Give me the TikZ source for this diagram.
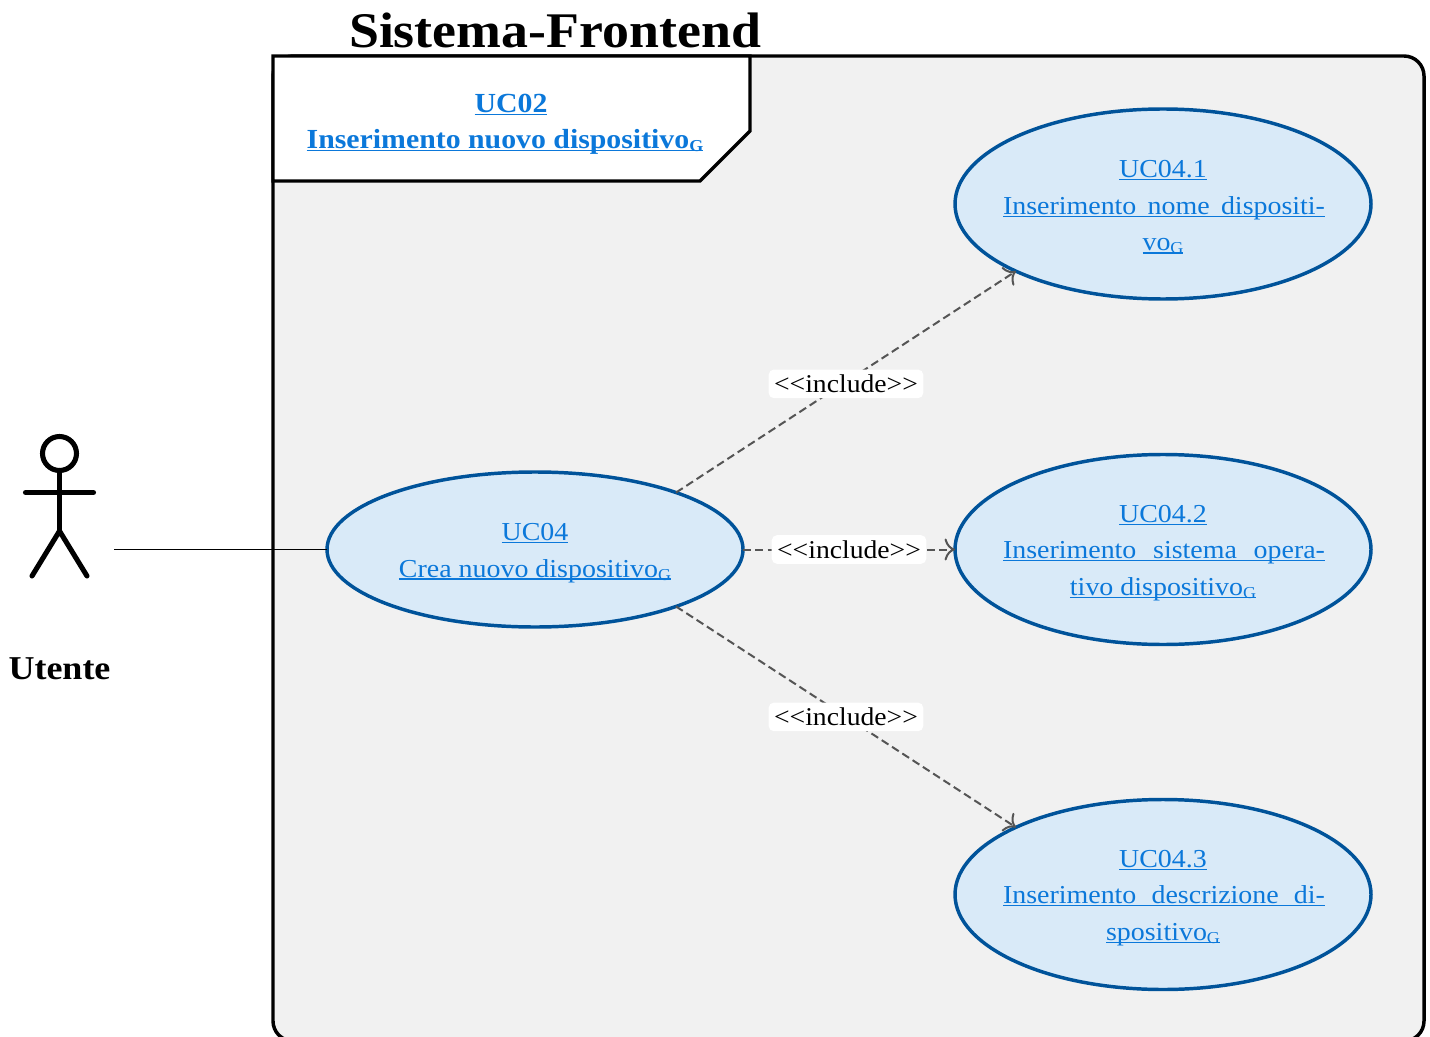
\documentclass[tikz,border=0pt]{standalone}
\usepackage{fontspec}
\usetikzlibrary{arrows.meta,shapes.geometric}
\setmainfont{Liberation Serif}[FakeStretch=1.08]
\definecolor{sysfill}{HTML}{F1F1F1}
\definecolor{ucfill}{HTML}{D9EAF8}
\definecolor{ucline}{HTML}{00539A}
\definecolor{linkc}{HTML}{0B78DA}
\definecolor{depc}{HTML}{555555}
\newlength\pxu \setlength\pxu{0.75pt}
\newsavebox\ulbox
\newcommand\lnk[1]{\sbox\ulbox{#1}\leavevmode\rlap{\rule[-2.6\pxu]{\wd\ulbox}{1.3\pxu}}\usebox\ulbox}
\newcommand\gsb{\raisebox{-3\pxu}{\fontsize{12.5pt}{12.5pt}\selectfont G}}
\newcommand\fit[2]{\hspace{2\pxu}\lnk{\hbox to 322\pxu{#2}}}
\newcommand\tstrut{\rule{0pt}{18pt}}
\tikzset{
  x=0.75pt,y=-0.75pt,
  usecase/.style={ellipse,draw=ucline,fill=ucfill,line width=2.6pt,inner sep=0pt,outer sep=0pt,
    minimum width=312pt,text=linkc,align=center,font=\fontsize{19.4pt}{27.4pt}\selectfont},
  wideuse/.style={usecase,inner xsep=-11.4pt,minimum height=142.5pt},
  dep/.style={draw=depc,line width=1.5pt,dash pattern=on 6pt off 3.2pt,
    -{Computer Modern Rightarrow[scale=1.6,color=depc]}},
  deplabel/.style={fill=white,rounded corners=4pt,inner sep=0pt,minimum width=116pt,minimum height=21.5pt,
    text=black,font=\fontsize{19.2pt}{21pt}\selectfont},
  limb/.style={line width=3.8pt,line cap=round},
}
\begin{document}
\begin{tikzpicture}
\useasboundingbox (0,0) rectangle (1430,1037);
\clip (0,0) rectangle (1430,1037);
\draw[fill=sysfill,line width=2.6pt,rounded corners=15pt] (273,56) rectangle (1424,1041);
\draw[fill=white,line width=2.6pt] (273,56) -- (750,56) -- (750,131) -- (700,181) -- (273,181) -- cycle;
\node[anchor=base,font=\bfseries\fontsize{37.4pt}{37.4pt}\selectfont] (title) at (555,48) {Sistema-Frontend};
\node[text=linkc,align=center,font=\bfseries\fontsize{20.7pt}{27pt}\selectfont] (frame) at (505,124)
  {\hspace{12\pxu}\lnk{UC02}\\ \lnk{Inserimento nuovo dispositivo\gsb}};
\node[usecase,minimum height=116.25pt] (uc04) at (535,549.5)
  {\tstrut\lnk{UC04}\\ \lnk{Crea nuovo dispositivo\gsb}};
\node[wideuse] (uc041) at (1163,204)
  {\tstrut\lnk{UC04.1}\\ \fit{321}{Inserimento\hfil nome\hfil dispositi-}\\ \lnk{vo\gsb}};
\node[wideuse] (uc042) at (1163,549.5)
  {\tstrut\lnk{UC04.2}\\ \fit{321}{Inserimento\hfil sistema\hfil opera-}\\ \lnk{tivo dispositivo\gsb}};
\node[wideuse] (uc043) at (1163,894.5)
  {\tstrut\lnk{UC04.3}\\ \fit{321}{Inserimento\hfil descrizione\hfil di-}\\ \lnk{spositivo\gsb}};
\coordinate (actorport) at (114,549.5);
\draw[line width=1.1pt] (actorport) -- (uc04.west);
\draw[dep] (uc04.22) -- node[deplabel,midway,yshift=-1.5pt] (l1) {<{}<include>{}>} (uc041.south west);
\draw[dep] (uc04.east) -- node[deplabel,midway] (l2) {<{}<include>{}>} (uc042.west);
\draw[dep] (uc04.-22) -- node[deplabel,midway] (l3) {<{}<include>{}>} (uc043.north west);
\node[circle,draw,line width=3.8pt,minimum size=25.5pt,inner sep=0pt,outer sep=0pt] (head) at (59.5,453.5) {};
\coordinate (hip) at (59.5,531);
\coordinate (armL) at (25.5,492.5);
\coordinate (armR) at (93.5,492.5);
\coordinate (footL) at (32,576);
\coordinate (footR) at (87,576);
\draw[limb] (head.south) -- (hip);
\draw[limb] (armL) -- (armR);
\draw[limb] (footL) -- (hip) -- (footR);
\node[anchor=base,font=\bfseries\fontsize{25pt}{25pt}\selectfont] (actorname) at (59.5,679) {Utente};
\end{tikzpicture}
\end{document}
